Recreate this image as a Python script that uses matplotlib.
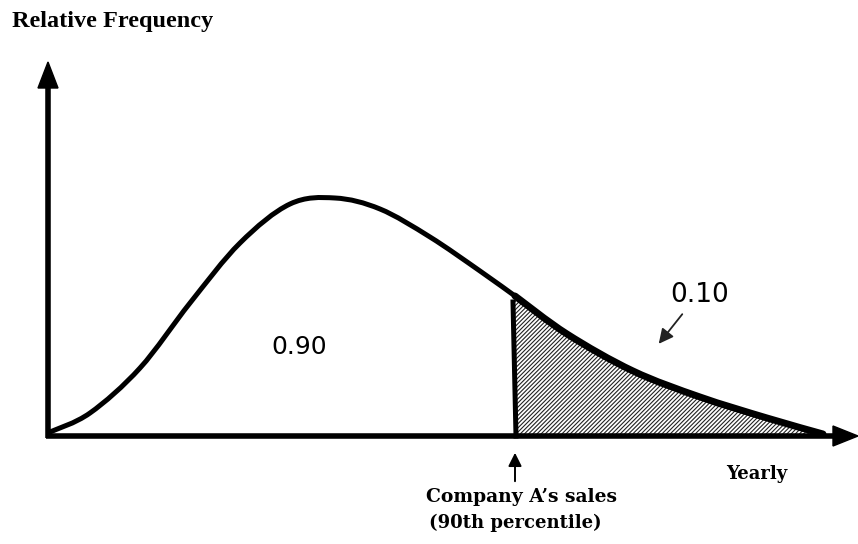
import numpy as np
import matplotlib.pyplot as plt
from matplotlib.patches import Polygon, PathPatch
from matplotlib.path import Path

# density sketch, traced in canvas units (x right, y down)
curve_x = [50, 90, 140, 190, 240, 290, 335, 380, 430, 480, 515,
           567, 633, 700, 767, 823]
curve_y = [432, 413, 368, 303, 243, 204, 198, 209, 237, 271, 296,
           334, 371, 397, 418, 434]

cut_x = 515      # company A's sales, 90th percentile
base_y = 436
area_labels = ['0.90', '0.10']


def smooth_path(xs, ys):
    # Catmull-Rom through the points, written as cubic Bezier segments
    p = np.column_stack([xs, ys]).astype(float)
    verts = [p[0]]
    codes = [Path.MOVETO]
    for i in range(len(p) - 1):
        p0 = p[i - 1] if i > 0 else p[i]
        p3 = p[i + 2] if i + 2 < len(p) else p[i + 1]
        c1 = p[i] + (p[i + 1] - p0) / 6
        c2 = p[i + 1] - (p3 - p[i]) / 6
        verts += [c1, c2, p[i + 1]]
        codes += [Path.CURVE4] * 3
    return Path(verts, codes)


fig = plt.figure(figsize=(8.58, 5.44), dpi=100)
ax = fig.add_axes([0, 0, 1, 1])
ax.set_xlim(0, 858)
ax.set_ylim(544, 0)
ax.axis('off')

cx = np.array(curve_x, dtype=float)
cy = np.array(curve_y, dtype=float)
cut_y = cy[cx == cut_x][0]
tail = cx >= cut_x
body = cx <= cut_x

# shaded upper tail, bounded by the same smooth curve
full = smooth_path(cx, cy)
pts = full.to_polygons(closed_only=False)[0]
tail_pts = pts[pts[:, 0] >= cut_x]
verts = [(cut_x, base_y), (cut_x, cut_y)] + [tuple(v) for v in tail_pts] + [(cx[-1], base_y)]
plt.rcParams['hatch.linewidth'] = 0.8
ax.add_patch(Polygon(verts, closed=True, facecolor='white', edgecolor='#222222',
                     hatch='////////', linewidth=0))

# curve: thinner body, heavier tail
ax.add_patch(PathPatch(smooth_path(cx[body], cy[body]), fill=False, color='black',
                       lw=3.6, capstyle='round', joinstyle='round'))
ax.add_patch(PathPatch(smooth_path(cx[tail], cy[tail]), fill=False, color='black',
                       lw=5.0, capstyle='round', joinstyle='round'))

# cut line
ax.plot([cut_x - 2, cut_x + 1], [cut_y + 6, base_y], color='black', lw=3.6)

# axes with arrowheads
ax.plot([46, 840], [base_y, base_y], color='black', lw=4.0, solid_capstyle='butt')
ax.plot([48, 48], [base_y + 2, 80], color='black', lw=4.0, solid_capstyle='butt')
ax.add_patch(Polygon([(48, 62), (38, 88), (58, 88)], closed=True, color='black'))
ax.add_patch(Polygon([(858, base_y), (833, base_y - 10), (833, base_y + 10)],
                     closed=True, color='black'))

# labels
ax.text(12, 22, 'Relative Frequency', fontsize=17.5, fontweight='bold',
        family='Liberation Serif', ha='left', va='center')
ax.text(299, 347, area_labels[0], fontsize=18, family='DejaVu Sans',
        ha='center', va='center')
ax.text(700, 295, area_labels[1], fontsize=19, family='DejaVu Sans',
        ha='center', va='center')
ax.annotate('', xy=(657, 346), xytext=(684, 312),
            arrowprops=dict(arrowstyle='-|>', color='#222222', lw=1.3,
                            mutation_scale=22))
ax.annotate('', xy=(cut_x, 450), xytext=(cut_x, 484),
            arrowprops=dict(arrowstyle='-|>', color='black', lw=1.4,
                            mutation_scale=20))
ax.text(cut_x + 6, 497, 'Company A\u2019s sales', fontsize=13.5, fontweight='bold',
        family='DejaVu Serif', ha='center', va='center')
ax.text(cut_x, 523, '(90th percentile)', fontsize=13, fontweight='bold',
        family='DejaVu Serif', ha='center', va='center')
ax.text(757, 474, 'Yearly', fontsize=13, fontweight='bold',
        family='DejaVu Serif', ha='center', va='center')

fig.savefig('out.png', dpi=100)
